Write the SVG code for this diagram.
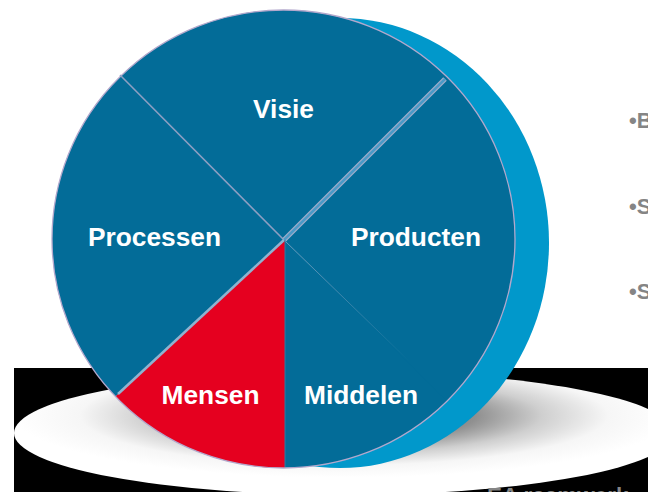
<svg xmlns="http://www.w3.org/2000/svg" width="648" height="492" viewBox="0 0 648 492">
<style>
.lab{font-family:"Liberation Sans",Arial,sans-serif;font-weight:700;font-size:26.300px;fill:#fff;text-anchor:middle}
.bul{font-family:"Liberation Sans",Arial,sans-serif;font-weight:700;font-size:22px;fill:#858585}
.sep{fill:none;stroke:#8d9fc2;stroke-width:1.6}
.sec{fill:#036c98}
</style>
<defs>
<radialGradient id="sh" cx="0.5" cy="0.36" r="0.5">
<stop offset="0" stop-color="#555"/><stop offset="0.4" stop-color="#909090"/><stop offset="0.6" stop-color="#cfcfcf"/><stop offset="0.8" stop-color="#f6f6f6"/><stop offset="1" stop-color="#fff"/>
</radialGradient>
<clipPath id="disc"><ellipse cx="283.500" cy="239" rx="231.500" ry="229"/></clipPath>
<linearGradient id="fade" gradientUnits="userSpaceOnUse" x1="284" y1="240" x2="410" y2="362">
<stop offset="0" stop-color="#6e9dbd"/><stop offset="1" stop-color="#036c98"/>
</linearGradient>
</defs>
<rect width="648" height="492" fill="#fff"/>
<g id="shadow">
<rect x="14" y="368" width="634" height="124" fill="#000"/>
<ellipse cx="344" cy="433" rx="330" ry="62" fill="url(#sh)"/>
</g>
<g id="back-disc"><ellipse cx="340" cy="243" rx="209" ry="225" fill="#0198cb"/></g>
<g clip-path="url(#disc)">
<g id="node-visie-shape"><path class="sec" d="M284 240L0 -46H600Z"/></g>
<g id="node-producten-shape"><path class="sec" d="M284 240L600 -78V560Z"/></g>
<g id="node-middelen-shape"><path class="sec" d="M284 240L600 552H284Z"/></g>
<g id="node-mensen-shape"><path d="M285 240V500H0L118 394Z" fill="#e5001f"/></g>
<g id="node-processen-shape"><path class="sec" d="M284 240L118 394L0 504V-46Z"/></g>
</g>
<g id="connectors">
<ellipse cx="283.500" cy="239" rx="231.500" ry="229" fill="none" stroke="#b3a8cc" stroke-width="1.300"/>
<path class="sep" d="M120 75L284 240"/>
<path d="M284 240L445 79" fill="none" stroke="#a3aecb" stroke-width="5"/>
<path d="M284 240L445 79" fill="none" stroke="#4c9ac6" stroke-width="2.500"/>
<path d="M118 394L284 240" fill="none" stroke="#8fb3d0" stroke-width="2.500"/>
<path d="M284 240L410 362" fill="none" stroke="url(#fade)" stroke-width="1"/>
<path d="M285 240V467" fill="none" stroke="#2d7ba3" stroke-width="1"/>
</g>
<g id="node-visie"><text class="lab" x="283.500" y="118">Visie</text></g>
<g id="node-producten"><text class="lab" x="416" y="246">Producten</text></g>
<g id="node-middelen"><text class="lab" x="361" y="404">Middelen</text></g>
<g id="node-mensen"><text class="lab" x="210.500" y="404">Mensen</text></g>
<g id="node-processen"><text class="lab" x="154.500" y="246">Processen</text></g>
<g id="bullets">
<text class="bul" x="629" y="128">•B</text>
<text class="bul" x="629" y="214">•S</text>
<text class="bul" x="629" y="299">•S</text>
<text class="bul" x="479" y="503" style="font-size:22.500px">•EA raamwerk</text>
</g>
</svg>
